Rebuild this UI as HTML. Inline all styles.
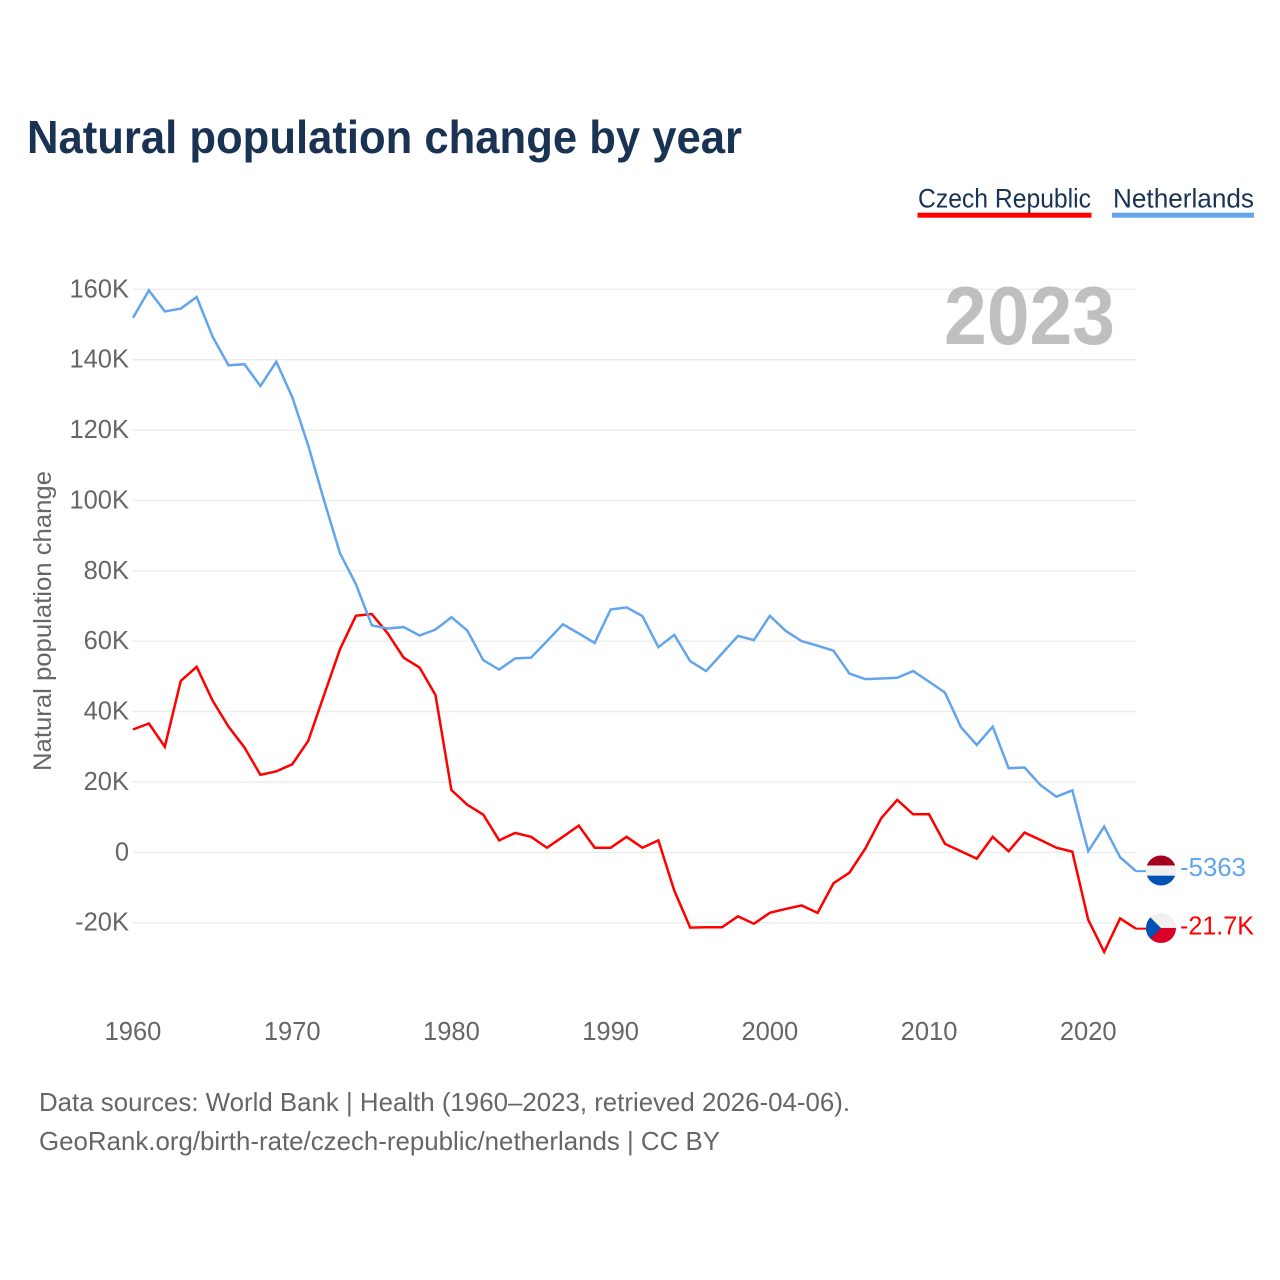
<!DOCTYPE html>
<html lang="en">
<head>
<meta charset="utf-8">
<title>Natural population change by year</title>
<style>
  html, body { margin: 0; padding: 0; background: #fff; }
  body { width: 1280px; height: 1280px; overflow: hidden; }
  svg { display: block; }
  text { font-family: "Liberation Sans", sans-serif; }
</style>
</head>
<body>
<svg id="chart" xmlns="http://www.w3.org/2000/svg" width="1280" height="1280" viewBox="0 0 1280 1280">
  <defs>
    <clipPath id="flag-clip-nl"><circle id="clip-nl" cx="1161" cy="871" r="15"></circle></clipPath>
    <clipPath id="flag-clip-cz"><circle id="clip-cz" cx="1161" cy="928" r="15"></circle></clipPath>
  </defs>
  <rect x="0" y="0" width="1280" height="1280" fill="#ffffff"></rect>
  <text x="27" y="153" font-size="46" font-weight="700" fill="#1a3353" textLength="715" lengthAdjust="spacingAndGlyphs">Natural population change by year</text>

  <g>
    <g>
      <text x="918" y="207.5" font-size="27" fill="#1a3353" textLength="173" lengthAdjust="spacingAndGlyphs">Czech Republic</text>
      <rect x="917.5" y="212.7" width="174" height="5" fill="#ff0000"></rect>
    </g>
    <g>
      <text x="1113" y="207.5" font-size="27" fill="#1a3353" textLength="141" lengthAdjust="spacingAndGlyphs">Netherlands</text>
      <rect x="1112" y="212.7" width="142" height="5" fill="#63a5ec"></rect>
    </g>
  </g>

  <g id="grid"></g>
  <g id="y-ticks"></g>
  <g id="x-ticks"></g>

  <text transform="translate(51 771) rotate(-90)" x="0" y="0" font-size="25" fill="#666666" textLength="300" lengthAdjust="spacingAndGlyphs">Natural population change</text>

  <text x="1115" y="344" text-anchor="end" font-size="83" font-weight="700" fill="#bfbfbf" textLength="171" lengthAdjust="spacingAndGlyphs">2023</text>

  <g id="series"></g>
  <g id="end-markers"></g>

  <text x="39" y="1111" font-size="26" fill="#666666" textLength="811" lengthAdjust="spacingAndGlyphs">Data sources: World Bank | Health (1960–2023, retrieved 2026-04-06).</text>
  <text x="39" y="1150" font-size="26" fill="#666666" textLength="681" lengthAdjust="spacingAndGlyphs">GeoRank.org/birth-rate/czech-republic/netherlands | CC BY</text>
</svg>

<script>
const startYear = 1960;
const yTickValues = [160, 140, 120, 100, 80, 60, 40, 20, 0, -20];
const yTickLabels = ["160K", "140K", "120K", "100K", "80K", "60K", "40K", "20K", "0", "-20K"];
const xTickYears = [1960, 1970, 1980, 1990, 2000, 2010, 2020];
const xTickLabels = ["1960", "1970", "1980", "1990", "2000", "2010", "2020"];

// Natural population change, thousands, one value per year 1960-2023
const netherlandsValues = [
  151.9, 159.7, 153.7, 154.5, 157.8, 146.5, 138.4, 138.7, 132.5, 139.4,
  129.4, 115.7, 100.0, 85.0, 76.2, 64.5, 63.6, 64.0, 61.6, 63.3,
  66.8, 63.0, 54.6, 51.9, 55.1, 55.3, 60.0, 64.8, 62.2, 59.5,
  69.0, 69.6, 67.1, 58.3, 61.8, 54.3, 51.5, 56.5, 61.5, 60.3,
  67.2, 62.9, 60.0, 58.7, 57.3, 50.8, 49.2, 49.4, 49.6, 51.5,
  48.5, 45.4, 35.6, 30.5, 35.7, 23.9, 24.1, 19.1, 15.8, 17.6,
  0.3, 7.3, -1.4, -5.363
];
const czechValues = [
  34.9, 36.6, 30.0, 48.7, 52.7, 43.1, 35.7, 29.8, 22.0, 23.0,
  25.0, 31.6, 44.7, 57.7, 67.2, 67.7, 62.2, 55.3, 52.5, 44.7,
  17.7, 13.5, 10.7, 3.4, 5.5, 4.4, 1.3, 4.4, 7.6, 1.3,
  1.3, 4.4, 1.3, 3.4, -10.9, -21.4, -21.3, -21.3, -18.2, -20.3,
  -17.2, -16.1, -15.1, -17.2, -8.8, -5.8, 1.1, 9.7, 14.9, 10.8,
  10.8, 2.4, 0.3, -1.8, 4.4, 0.3, 5.6, 3.5, 1.3, 0.2,
  -19.2, -28.3, -18.8, -21.7
];
const netherlandsEndLabel = "-5363";
const czechEndLabel = "-21.7K";

const NS = "http://www.w3.org/2000/svg";
function xScale(year) { return 133 + (year - 1960) * (1136 - 133) / 63; }
function yScale(value) { return 852.3 - value * 3.519; }
function make(tag, attrs, parent) {
  const el = document.createElementNS(NS, tag);
  for (const key in attrs) el.setAttribute(key, attrs[key]);
  parent.appendChild(el);
  return el;
}

const grid = document.getElementById("grid");
const yTicks = document.getElementById("y-ticks");
yTickValues.forEach(function (v, i) {
  const line = make("line", { x1: 133, x2: 1136, y1: yScale(v), y2: yScale(v), stroke: "#ececec", "stroke-width": 1.4 }, grid);
  
  
  const label = make("text", { x: 129, y: yScale(v) + 8, "text-anchor": "end", "font-size": 25.5, fill: "#666666" }, yTicks);
  
  
  label.textContent = yTickLabels[i];
});

const xTicks = document.getElementById("x-ticks");
xTickYears.forEach(function (year, i) {
  const label = make("text", { x: xScale(year), y: 1040, "text-anchor": "middle", "font-size": 25.5, fill: "#666666" }, xTicks);
  
  
  label.textContent = xTickLabels[i];
});

function linePoints(values) {
  return values.map(function (v, i) {
    return xScale(startYear + i).toFixed(2) + "," + yScale(v).toFixed(2);
  }).join(" ");
}
const series = document.getElementById("series");
const czechLine = make("polyline", { points: linePoints(czechValues), fill: "none", stroke: "#ff0000", "stroke-width": 2.5, "stroke-linejoin": "miter" }, series);


const nlLine = make("polyline", { points: linePoints(netherlandsValues), fill: "none", stroke: "#63a5ec", "stroke-width": 2.5, "stroke-linejoin": "miter" }, series);



const endMarkers = document.getElementById("end-markers");
const flagX = 1161;
const flagR = 15;
const stubStart = xScale(startYear + netherlandsValues.length - 1);

// Netherlands end stub, flag and label
const nlY = yScale(netherlandsValues[netherlandsValues.length - 1]);
const nlFlagY = nlY - 0.7;
const nlStub = make("line", { x1: stubStart, x2: flagX - flagR, y1: nlY, y2: nlY, stroke: "#63a5ec", "stroke-width": 2 }, endMarkers);


document.getElementById("clip-nl").setAttribute("cy", nlFlagY);
const nlFlag = make("g", { "clip-path": "url(#flag-clip-nl)" }, endMarkers);


make("rect", { x: flagX - flagR, y: nlFlagY - flagR, width: 30, height: 30, fill: "#f0f0f0" }, nlFlag);
make("rect", { x: flagX - flagR, y: nlFlagY - flagR, width: 30, height: 10, fill: "#a2001d" }, nlFlag);
make("rect", { x: flagX - flagR, y: nlFlagY + 5.2, width: 30, height: 10, fill: "#0052b4" }, nlFlag);
const nlLabel = make("text", { x: 1180, y: nlY + 5, "font-size": 25.5, fill: "#63a5ec", textLength: 66, lengthAdjust: "spacingAndGlyphs" }, endMarkers);


nlLabel.textContent = netherlandsEndLabel;

// Czech Republic end stub, flag and label
const czY = yScale(czechValues[czechValues.length - 1]);
const czFlagY = czY - 0.7;
const czStub = make("line", { x1: stubStart, x2: flagX - flagR, y1: czY, y2: czY, stroke: "#ff0000", "stroke-width": 2 }, endMarkers);


document.getElementById("clip-cz").setAttribute("cy", czFlagY);
const czFlag = make("g", { "clip-path": "url(#flag-clip-cz)" }, endMarkers);


make("rect", { x: flagX - flagR, y: czFlagY - flagR, width: 30, height: 15, fill: "#f0f0f0" }, czFlag);
make("rect", { x: flagX - flagR, y: czFlagY, width: 30, height: 15, fill: "#d80027" }, czFlag);
make("polygon", { points: (flagX - flagR - 2) + "," + (czFlagY - flagR - 2) + " " + flagX + "," + czFlagY + " " + (flagX - flagR - 2) + "," + (czFlagY + flagR + 2), fill: "#0052b4" }, czFlag);
const czLabel = make("text", { x: 1180, y: czY + 6, "font-size": 25.5, fill: "#ff0000", textLength: 74, lengthAdjust: "spacingAndGlyphs" }, endMarkers);


czLabel.textContent = czechEndLabel;
</script>
</body>
</html>
